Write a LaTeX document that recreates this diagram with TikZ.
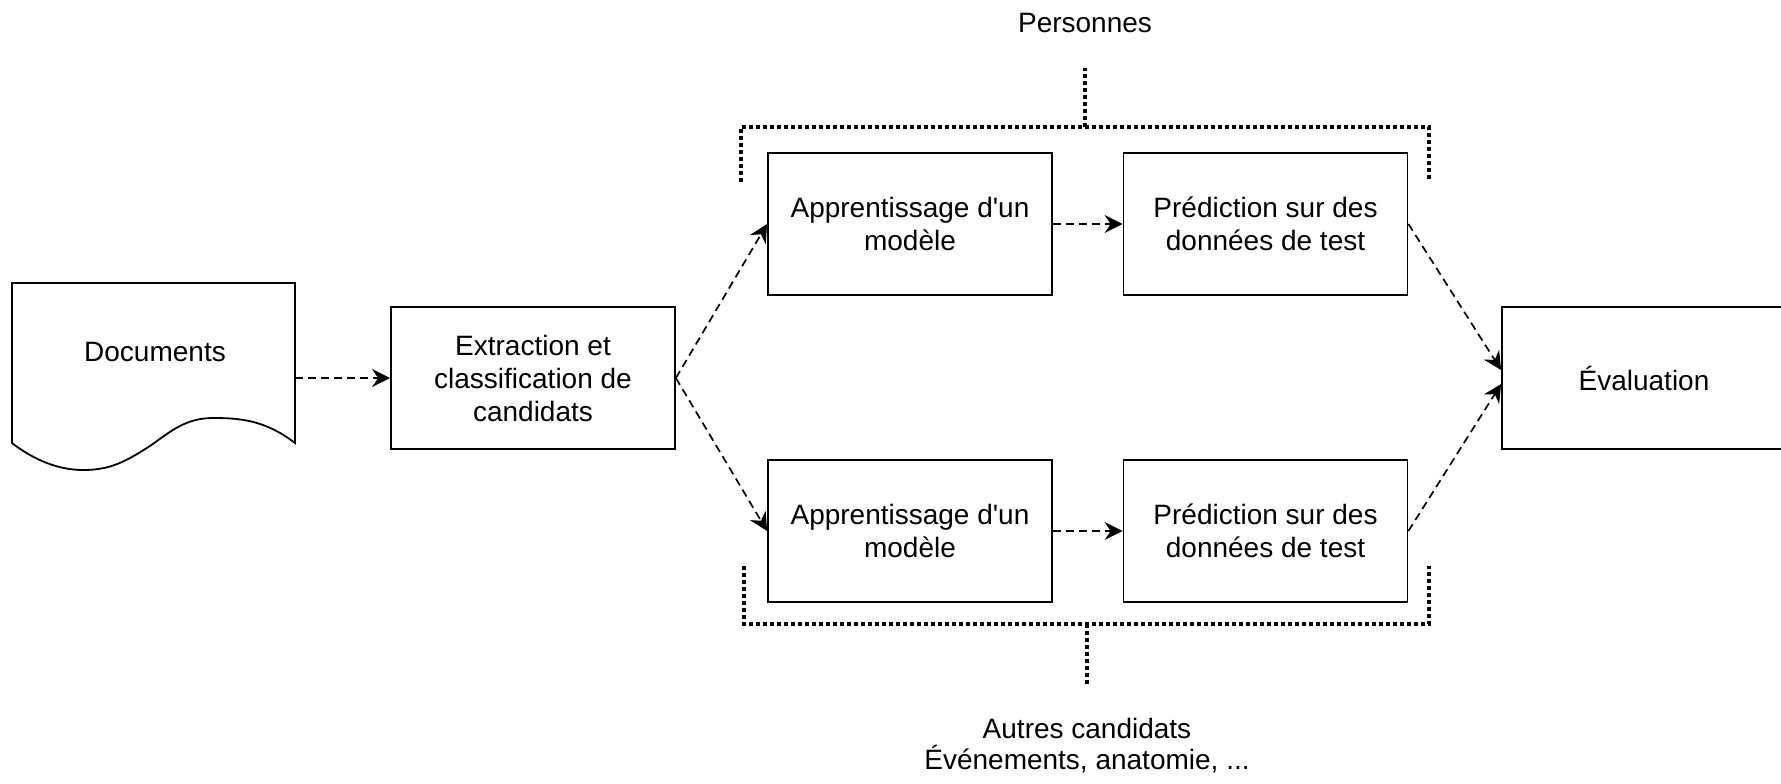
\documentclass[tikz,border=0pt]{standalone}
\usepackage{fontspec}
\setmainfont{Liberation Sans}
\newfontfamily\boxfont{Liberation Sans}
\usetikzlibrary{arrows.meta}
\begin{document}
\begin{tikzpicture}[x=0.5pt,y=-0.5pt,
  box/.style={draw, line width=0.9pt, minimum width=142pt, minimum height=71pt,
    inner sep=0pt, align=center, font=\boxfont\fontsize{14}{16.5}\selectfont},
  lbl/.style={align=center, inner sep=0pt, font=\boxfont\fontsize{14}{15.5}\selectfont},
  flow/.style={draw, line width=0.85pt, dash pattern=on 4pt off 2.5pt,
    -{Stealth[length=9pt,width=9pt,inset=3pt]}},
  group/.style={draw, line width=2pt, dash pattern=on 2pt off 1.5pt}
]
\useasboundingbox (0,0) rectangle (1781,783);
\begin{scope}
\clip (0,0) rectangle (1781,783);

% document shape
\draw[line width=0.9pt] (12,443) -- (12,283) -- (295,283) -- (295,443)
  .. controls (265,420) and (240,418) .. (213,418)
  .. controls (185,418) and (170,432) .. (150,446)
  .. controls (125,462) and (110,470) .. (83,470)
  .. controls (55,470) and (30,457) .. (12,443) -- cycle;
\node[lbl] (doc) at (155,352) {Documents};
\coordinate (docout) at (295,378);

% process boxes
\node[box] (ext) at (533,378) {Extraction et\\classification de\\candidats};
\node[box] (app1) at (910,224) {Apprentissage d'un\\modèle};
\node[box] (pred1) at (1265.5,224) {Prédiction sur des\\données de test};
\node[box] (app2) at (910,531) {Apprentissage d'un\\modèle};
\node[box] (pred2) at (1265.5,531) {Prédiction sur des\\données de test};
\node[box] (eval) at (1644,378) {Évaluation};

% flow
\draw[flow] (docout) -- (ext.west);
\draw[flow] (ext.east) -- (app1.west);
\draw[flow] (ext.east) -- (app2.west);
\draw[flow] (app1.east) -- (pred1.west);
\draw[flow] (app2.east) -- (pred2.west);
\draw[flow] (pred1.east) -- ([yshift=4pt]eval.west);
\draw[flow] (pred2.east) -- ([yshift=-3pt]eval.west);

% groups
\coordinate (gtl) at (741,182);
\coordinate (gtr) at (1429,182);
\coordinate (gtm) at (1085,127);
\coordinate (gtt) at (1085,68);
\draw[group] (gtl) -- (gtl |- gtm) -- (gtr |- gtm) -- (gtr);
\draw[group] (gtm) -- (gtt);
\node[lbl] (pers) at (1085,23) {Personnes};

\coordinate (gbl) at (744,566);
\coordinate (gbr) at (1429,566);
\coordinate (gbm) at (1087,624);
\coordinate (gbb) at (1087,684);
\draw[group] (gbl) -- (gbl |- gbm) -- (gbr |- gbm) -- (gbr);
\draw[group] (gbm) -- (gbb);
\node[lbl] (autres) at (1087,746) {Autres candidats\\Événements, anatomie, ...};
\end{scope}
\end{tikzpicture}
\end{document}
